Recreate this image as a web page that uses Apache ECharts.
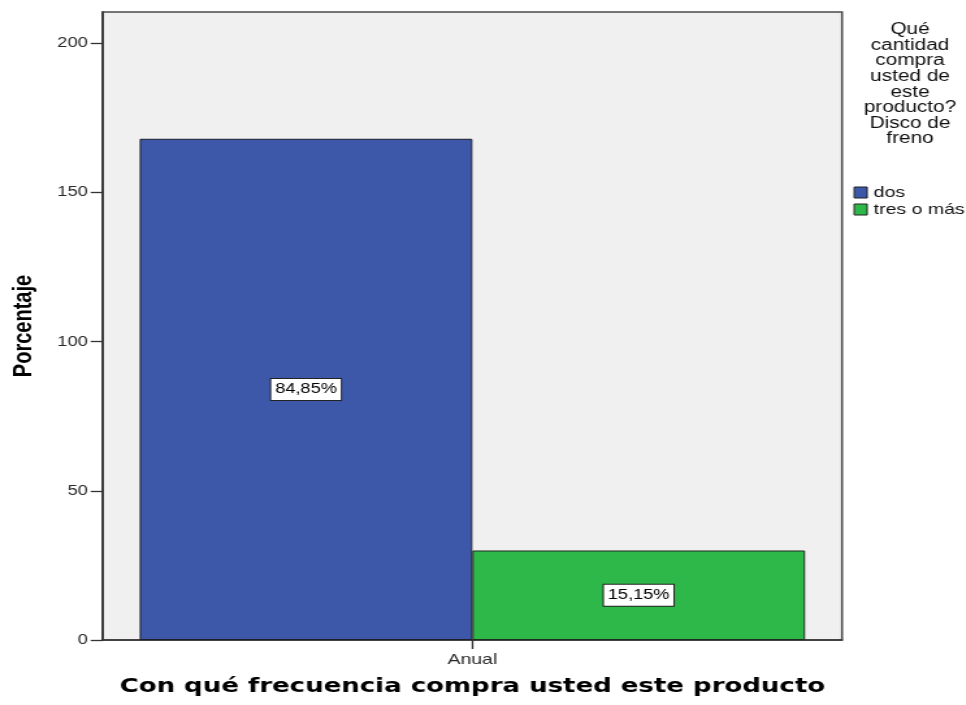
<!DOCTYPE html>
<html>
<head>
<meta charset="utf-8">
<script src="https://cdn.jsdelivr.net/npm/echarts@6/dist/echarts.min.js"></script>
<style>
  html, body { margin: 0; padding: 0; background: #ffffff; overflow: hidden; }
  #wrap { width: 966px; height: 705px; overflow: hidden; }
  /* the chart is laid out on a narrower canvas and widened horizontally */
  #chart { height: 705px; transform-origin: 0 0; }
</style>
</head>
<body>
<div id="wrap"><div id="chart"></div></div>
<script>
// ---- data ----
const categories = ['Anual'];
const seriesNames = ['dos', 'tres o más'];
const dosValues = [168];
const tresValues = [30];
const yTicks = [0, 50, 100, 150, 200];
const legendTitleLines = ['Qué', 'cantidad', 'compra', 'usted de', 'este', 'producto?', 'Disco de', 'freno'];
const xTitle = 'Con qué frecuencia compra usted este producto';
const yTitle = 'Porcentaje';

// ---- layout ----
const STRETCH = 1.3;
const W = 966 / STRETCH;
const el = document.getElementById('chart');
el.style.width = W + 'px';
el.style.transform = 'scaleX(' + STRETCH + ')';
const px = x => x / STRETCH;   // page x -> canvas x

const total = dosValues[0] + tresValues[0];
const pctLabel = v => (v / total * 100).toFixed(2).replace('.', ',') + '%';

const chart = echarts.init(el, null, { renderer: 'canvas', width: W, height: 705 });

const barLabel = {
  show: true,
  position: 'inside',
  formatter: p => pctLabel(p.value),
  fontFamily: 'Liberation Sans, Arial, sans-serif',
  fontSize: 14,
  color: '#000',
  backgroundColor: '#ffffff',
  borderColor: '#222',
  borderWidth: 1,
  padding: [4, 3, 3, 3]
};

chart.setOption({
  animation: false,
  backgroundColor: '#ffffff',
  grid: {
    left: px(101), right: W - px(842), top: 12, bottom: 65,
    show: true, backgroundColor: '#f0f0f0', borderColor: '#4a4a4a', borderWidth: 1.6
  },
  legend: {
    orient: 'vertical',
    left: px(847), top: 180,
    itemWidth: 10, itemHeight: 11, itemGap: 2,
    icon: 'rect',
    data: seriesNames,
    textStyle: { fontFamily: 'Liberation Sans, Arial, sans-serif', fontSize: 15, color: '#111' },
    itemStyle: { borderColor: '#222', borderWidth: 1 }
  },
  graphic: [{
    type: 'text',
    x: px(910), y: 22,
    style: {
      text: legendTitleLines.join('\n'),
      align: 'center', verticalAlign: 'top',
      fontFamily: 'Liberation Sans, Arial, sans-serif', fontSize: 16, lineHeight: 15.6,
      fill: '#111'
    }
  }],
  xAxis: {
    type: 'category',
    data: categories,
    name: xTitle,
    nameLocation: 'middle',
    nameGap: 37,
    nameTextStyle: { fontFamily: 'DejaVu Sans, sans-serif', fontWeight: 'bold', fontSize: 20, color: '#000' },
    axisLine: { show: true, lineStyle: { color: '#333', width: 1.6 } },
    axisTick: { show: true, alignWithLabel: true, length: 9, lineStyle: { color: '#333', width: 1.3 } },
    axisLabel: { margin: 12, fontFamily: 'Liberation Sans, Arial, sans-serif', fontSize: 15, color: '#2a2a2a' },
    splitLine: { show: false }
  },
  yAxis: {
    type: 'value',
    min: 0, max: 210.5, interval: 50,
    name: yTitle,
    nameLocation: 'middle',
    nameRotate: 90,
    nameGap: 51,
    nameTextStyle: { fontFamily: 'Liberation Sans, Arial, sans-serif', fontWeight: 'bold', fontSize: 20, color: '#000' },
    axisLine: { show: true, lineStyle: { color: '#333', width: 1.6 } },
    axisTick: { show: true, length: px(12), customValues: yTicks, lineStyle: { color: '#333', width: 1.3 } },
    axisLabel: { margin: px(15), customValues: yTicks, fontFamily: 'Liberation Sans, Arial, sans-serif', fontSize: 14, color: '#2a2a2a' },
    splitLine: { show: false }
  },
  series: [
    {
      name: seriesNames[0], type: 'bar', data: dosValues,
      barGap: '0%', barCategoryGap: '10%',
      itemStyle: { color: '#3d57a9', borderColor: '#1e1e2a', borderWidth: 1 },
      label: barLabel
    },
    {
      name: seriesNames[1], type: 'bar', data: tresValues,
      barGap: '0%', barCategoryGap: '10%',
      itemStyle: { color: '#2eb84a', borderColor: '#1e2a1e', borderWidth: 1 },
      label: barLabel
    }
  ]
});
</script>
</body>
</html>
